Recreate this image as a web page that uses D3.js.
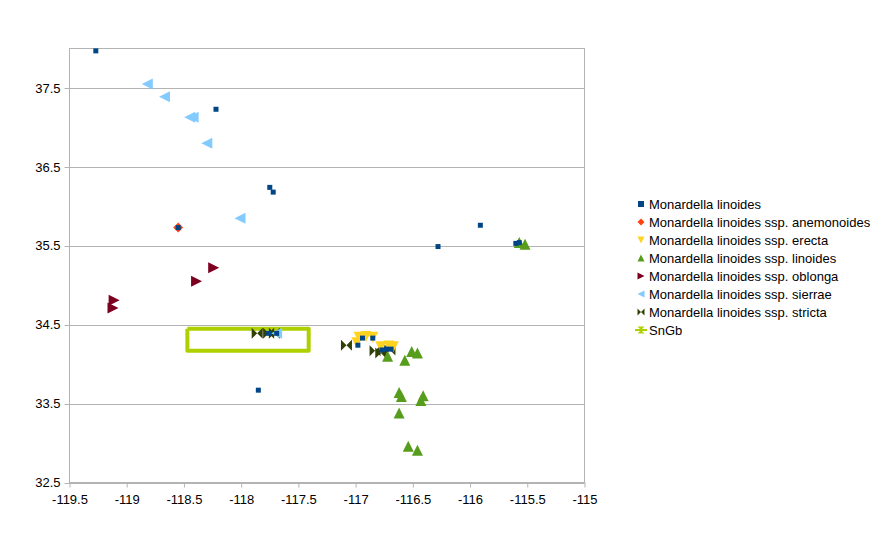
<!DOCTYPE html>
<html>
<head>
<meta charset="utf-8">
<title>Monardella linoides</title>
<script src="https://d3js.org/d3.v7.min.js"></script>
<style>
    body { margin: 0; background: #fff; }
    text { font-family: "Liberation Sans", Arial, sans-serif; font-size: 13px; fill: #000; }
</style>
</head>
<body>
<div id="chart"></div>
<script>
    // point data: [longitude, latitude]
    var mLinoides = [[-119.27,37.97],[-118.22,37.23],[-117.75,36.24],[-117.72,36.18],[-118.55,35.73],
        [-116.28,35.49],[-115.91,35.76],[-115.60,35.53],[-115.57,35.54],[-117.85,33.67],
        [-117.76,34.39],[-117.69,34.39],[-116.94,34.33],[-116.98,34.24],[-116.85,34.33],
        [-116.77,34.18],[-116.73,34.19],[-116.69,34.19]];
    var anemonoides = [[-118.55,35.73]];
    var erecta = [[-116.97,34.34],[-116.91,34.35],[-116.85,34.34],[-116.99,34.27],
        [-116.78,34.22],[-116.71,34.23],[-116.67,34.22]];
    var sspLinoides = [[-115.57,35.54],[-115.52,35.52],[-116.51,34.16],[-116.46,34.14],[-116.57,34.05],
        [-116.72,34.10],[-116.62,33.64],[-116.60,33.59],[-116.41,33.60],[-116.43,33.54],
        [-116.62,33.38],[-116.54,32.96],[-116.46,32.91]];
    var oblonga = [[-118.24,35.22],[-118.39,35.05],[-119.11,34.81],[-119.12,34.71]];
    var sierrae = [[-118.82,37.55],[-118.67,37.39],[-118.45,37.13],[-118.42,37.13],
        [-118.30,36.80],[-118.01,35.85],[-117.69,34.39]];
    var stricta = [[-117.86,34.39],[-117.76,34.39],[-117.71,34.39],[-117.08,34.24],
        [-116.83,34.17],[-116.78,34.14],[-116.70,34.18]];
    var snGb = [[-118.47,34.45],[-117.41,34.45],[-117.41,34.17],[-118.47,34.17],[-118.47,34.45]];

    var xTicks = [-119.5,-119,-118.5,-118,-117.5,-117,-116.5,-116,-115.5,-115];
    var yTicks = [32.5,33.5,34.5,35.5,36.5,37.5];

    var seriesNames = ["Monardella linoides", "Monardella linoides ssp. anemonoides",
        "Monardella linoides ssp. erecta", "Monardella linoides ssp. linoides",
        "Monardella linoides ssp. oblonga", "Monardella linoides ssp. sierrae",
        "Monardella linoides ssp. stricta"];
    var seriesData = [mLinoides, anemonoides, erecta, sspLinoides, oblonga, sierrae, stricta];
    var colors = ["#004586","#ff420e","#ffd320","#579d1c","#7e0021","#83caff","#314004","#aecf00"];
    var shapes = ["square","diamond","down","up","right","left","bowtie"];
    var sizes = [5, 10, 11, 11, 11, 11, 11];

    var width = 884, height = 535;
    var x = d3.scaleLinear().domain([-119.5, -115]).range([69.5, 584.5]);
    var y = d3.scaleLinear().domain([32.5, 38]).range([482.5, 48.5]);

    function symbol(type, s) {
        var h = s / 2;
        switch (type) {
            case "square": return "M" + (-h) + "," + (-h) + "h" + s + "v" + s + "h" + (-s) + "Z";
            case "diamond": return "M0," + (-h) + "L" + h + ",0L0," + h + "L" + (-h) + ",0Z";
            case "down": return "M" + (-h) + "," + (-h) + "L" + h + "," + (-h) + "L0," + h + "Z";
            case "up": return "M" + (-h) + "," + h + "L" + h + "," + h + "L0," + (-h) + "Z";
            case "right": return "M" + (-h) + "," + (-h) + "L" + h + ",0L" + (-h) + "," + h + "Z";
            case "left": return "M" + h + "," + (-h) + "L" + (-h) + ",0L" + h + "," + h + "Z";
            case "bowtie": return "M" + (-h) + "," + (-h) + "L0,0L" + (-h) + "," + h + "Z" +
                "M" + h + "," + (-h) + "L0,0L" + h + "," + h + "Z";
            case "hourglass": return "M" + (-h) + "," + (-h) + "L" + h + "," + (-h) + "L0,0Z" +
                "M" + (-h) + "," + h + "L" + h + "," + h + "L0,0Z";
        }
    }

    var svg = d3.select("#chart").append("svg")
        .attr("width", width)
        .attr("height", height);

    // grid lines
    svg.append("g").selectAll("line")
        .data(yTicks)
        .enter().append("line")
        .attr("x1", x(-119.5) - 5).attr("x2", x(-115))
        .attr("y1", function(d) { return Math.round(y(d)) + 0.5; })
        .attr("y2", function(d) { return Math.round(y(d)) + 0.5; })
        .attr("stroke", "#b3b3b3");

    // plot border
    svg.append("rect")
        .attr("x", x(-119.5)).attr("y", y(38))
        .attr("width", x(-115) - x(-119.5))
        .attr("height", y(32.5) - y(38))
        .attr("fill", "none")
        .attr("stroke", "#b3b3b3");

    // x axis
    var xAxis = svg.append("g")
        .attr("transform", "translate(0," + y(32.5) + ")")
        .call(d3.axisBottom(x).tickValues(xTicks).tickSize(5).tickSizeOuter(0)
            .tickFormat(function(d) { return String(d); }));
    xAxis.select(".domain").attr("stroke", "#b3b3b3");
    xAxis.selectAll(".tick line").attr("stroke", "#b3b3b3");
    xAxis.selectAll(".tick text").attr("fill", "#000").attr("dy", "1em")
        .style("font-size", "13px").style("font-family", "Liberation Sans, Arial, sans-serif");

    // y axis
    var yAxis = svg.append("g")
        .attr("transform", "translate(" + x(-119.5) + ",0)")
        .call(d3.axisLeft(y).tickValues(yTicks).tickSize(5).tickSizeOuter(0)
            .tickFormat(function(d) { return String(d); }));
    yAxis.select(".domain").remove();
    yAxis.selectAll(".tick line").remove();
    yAxis.selectAll(".tick text").attr("fill", "#000").attr("x", -9)
        .style("font-size", "13px").style("font-family", "Liberation Sans, Arial, sans-serif");

    // SnGb rectangle
    var line = d3.line()
        .x(function(d) { return x(d[0]); })
        .y(function(d) { return y(d[1]); });
    svg.append("path")
        .datum(snGb)
        .attr("d", line)
        .attr("fill", "none")
        .attr("stroke", colors[7])
        .attr("stroke-width", 4)
        .attr("stroke-linejoin", "round");

    // points, last series first so the first one sits on top
    for (var i = seriesData.length - 1; i >= 0; i--) {
        svg.append("g").selectAll("path")
            .data(seriesData[i])
            .enter().append("path")
            .attr("transform", function(d) { return "translate(" + x(d[0]) + "," + y(d[1]) + ")"; })
            .attr("d", symbol(shapes[i], sizes[i]))
            .attr("fill", colors[i]);
    }

    // legend
    var legend = svg.append("g");
    var legendY = 204, legendStep = 18;
    seriesNames.forEach(function(name, i) {
        var ly = legendY + i * legendStep;
        legend.append("path")
            .attr("transform", "translate(641," + ly + ")")
            .attr("d", symbol(shapes[i], i == 0 ? 6 : 7))
            .attr("fill", colors[i]);
        legend.append("text")
            .attr("x", 649).attr("y", ly)
            .attr("dy", "0.35em")
            .text(name);
    });
    var sy = legendY + 7 * legendStep;
    legend.append("line")
        .attr("x1", 635).attr("x2", 647)
        .attr("y1", sy).attr("y2", sy)
        .attr("stroke", colors[7]).attr("stroke-width", 2);
    legend.append("path")
        .attr("transform", "translate(641," + sy + ")")
        .attr("d", symbol("hourglass", 7))
        .attr("fill", colors[7]);
    legend.append("text")
        .attr("x", 649).attr("y", sy)
        .attr("dy", "0.35em")
        .text("SnGb");
</script>
</body>
</html>
